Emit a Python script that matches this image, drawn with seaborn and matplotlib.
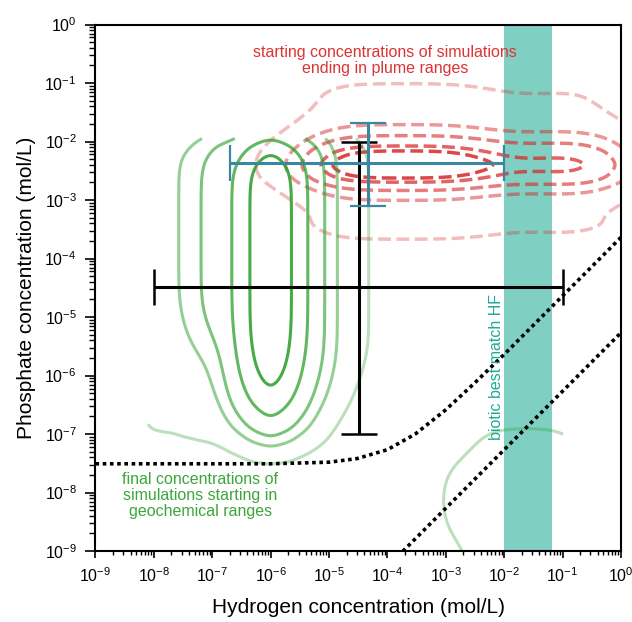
import numpy as np
import pandas as pd
import matplotlib
matplotlib.use("Agg")
import matplotlib.pyplot as plt
import seaborn as sns
from matplotlib.colors import to_rgba
from matplotlib.ticker import LogLocator

sns.set_theme(style="white")
plt.rcParams['font.family'] = ['Liberation Sans', 'DejaVu Sans']
plt.rcParams['mathtext.fontset'] = 'custom'
plt.rcParams['mathtext.rm'] = 'Liberation Sans'
plt.rcParams['mathtext.it'] = 'Liberation Sans:italic'
plt.rcParams['mathtext.bf'] = 'Liberation Sans:bold'

# ---------------- data (log10 concentrations, estimated from the figure) ----------------
# final concentrations (green): relative density map, columns = log10 H, rows = log10 P
green_logH = [-8.1, -7.8, -7.5, -7.2, -6.9, -6.6, -6.3, -6.0, -5.7, -5.4, -5.1, -4.8, -4.5, -4.2]
green_logP = [-2.0, -2.4, -2.8, -3.2, -3.6, -4.0, -4.4, -4.8, -5.2, -5.6, -6.0, -6.4, -6.8, -7.2, -7.6]
green_rows = [
    "7 8 10 13 17 18 20 20 20 18 15 8 5 3",
    "7 8 10 15 22 30 60 100 60 30 15 8 5 3",
    "7 8 10 15 22 30 60 100 60 30 15 8 5 3",
    "7 8 10 15 22 30 60 100 60 30 15 8 5 3",
    "7 8 10 15 22 30 60 100 60 30 15 8 5 3",
    "7 8 10 15 22 30 60 100 60 30 15 8 5 3",
    "7 8 10 15 22 30 60 100 60 30 15 8 5 3",
    "7 8 10 15 22 30 60 100 60 30 15 8 5 3",
    "7 7 9 13 19 30 60 100 60 30 15 8 5 3",
    "7 7 8 9 13 28 55 95 55 28 15 8 5 3",
    "7 7 8 8 11 24 48 75 48 24 13 7 4 2",
    "7 7 7 7 9 18 32 46 32 18 10 5 3 1",
    "5 5 5 6 7 12 20 28 20 12 6 3 2 0",
    "2 2 3 3 3 4 5 5 5 4 3 2 1 0",
    "0 0 1 1 1 1 2 2 2 1 1 0 0 0",
]
# small group of final concentrations at high H / low P
blob_logH = [-2.6, -2.1, -1.6, -1.1, -0.6]
blob_logP = [-7.4, -7.9, -8.4, -8.9, -9.4]
blob_rows = [
    "0 1 1 1 0",
    "1 2 3 2 1",
    "1 3 4 3 1",
    "0 2 3 2 1",
    "0 1 2 1 0",
]
# starting concentrations (red): separable profiles along H and along P
red_logH = [-6.0, -5.5, -5.0, -4.5, -4.0, -3.5, -3.0, -2.5, -2.0, -1.5, -1.0, -0.5, 0.0]
red_H_weight = [0.04, 0.16, 0.8, 1.0, 1.0, 1.0, 1.0, 0.85, 0.62, 0.62, 0.66, 0.64, 0.2]
red_logP = [-1.0, -1.2, -1.4, -1.6, -1.8, -2.0, -2.2, -2.4, -2.6, -2.8, -3.0, -3.2, -3.4, -3.6, -3.8]
red_P_weight = [3, 5, 6, 9, 18, 40, 75, 100, 75, 30, 13, 7, 7, 4, 1]

# error-bar ranges (mol/L)
geo_center = (3.2e-5, 3.2e-5)
geo_H_range = (1e-8, 1e-1)
geo_P_range = (1e-7, 1e-2)
plume_center = (4.7e-5, 4.3e-3)
plume_H_range = (2e-7, 1e-2)
plume_P_range = (8e-4, 2.1e-2)

# biotic best-match H range (mol/L)
hf_band = (1e-2, 6.6e-2)

# dotted boundary lines (H, P)
line1_H = [1e-9, 1e-6, 1e-5, 3e-5, 1e-4, 3e-4, 1e-3, 3e-3, 1e-2, 3e-2, 1e-1, 3e-1, 1.0]
line1_P = [3.1e-8, 3.1e-8, 3.3e-8, 3.8e-8, 5.4e-8, 1.0e-7, 2.6e-7, 7.2e-7, 2.3e-6, 6.9e-6, 2.3e-5, 6.9e-5, 2.3e-4]
line2_H = [1e-4, 1.0]
line2_P = [5.4e-10, 5.4e-6]


def density_table(logH, logP, rows):
    recs = []
    for ly, row in zip(logP, rows):
        for lx, val in zip(logH, row.split()):
            w = float(val)
            if w > 0:
                recs.append((10 ** lx, 10 ** ly, w))
    return pd.DataFrame(recs, columns=["H", "P", "w"])


def separable_table(logH, wH, logP, wP):
    recs = []
    for ly, a in zip(logP, wP):
        for lx, b in zip(logH, wH):
            if a * b > 0:
                recs.append((10 ** lx, 10 ** ly, a * b))
    return pd.DataFrame(recs, columns=["H", "P", "w"])


green_df = density_table(green_logH, green_logP, green_rows)
blob_df = density_table(blob_logH, blob_logP, blob_rows)
red_df = separable_table(red_logH, red_H_weight, red_logP, red_P_weight)

GREEN = "#2ca02c"
RED = "#d62728"
BLUE = "#3a87a0"
TEAL_BAND = "#80cfc3"
TEAL_TEXT = "#1fa999"

fig = plt.figure(figsize=(6.32, 6.22), dpi=100)
ax = fig.add_axes([0.1511, 0.1141, 0.8315, 0.8465])
ax.set_xscale("log")
ax.set_yscale("log")

# band
ax.axvspan(hf_band[0], hf_band[1], color=TEAL_BAND, lw=0, zorder=0.5)

# green contours
g_alphas = [0.32, 0.5, 0.62, 0.75, 0.88]
sns.kdeplot(data=green_df, x="H", y="P", weights="w", log_scale=True,
            bw_method=0.24, levels=[0.02, 0.12, 0.2, 0.38, 0.63],
            clip=((-8.1, -0.95), (-10, -1.95)),
            colors=[to_rgba(GREEN, a) for a in g_alphas],
            linewidths=2.2, ax=ax, zorder=1.2)
sns.kdeplot(data=blob_df, x="H", y="P", weights="w", log_scale=True,
            bw_method=0.6, levels=[0.03],
            clip=((-8.1, -0.99), (-10, -1.95)),
            colors=[to_rgba(GREEN, g_alphas[0])],
            linewidths=2.2, ax=ax, zorder=1.2)

# red contours
r_alphas = [0.3, 0.48, 0.6, 0.72, 0.85]
sns.kdeplot(data=red_df, x="H", y="P", weights="w", log_scale=True,
            bw_method=0.27, levels=[0.03, 0.19, 0.33, 0.59, 0.755],
            colors=[to_rgba(RED, a) for a in r_alphas],
            linewidths=2.5, linestyles="--", ax=ax, zorder=1.1)

# dotted lines
ax.plot(line1_H, line1_P, color="black", ls=(0, (1, 1)), lw=2.6, zorder=2.5)
ax.plot(line2_H, line2_P, color="black", ls=(0, (1, 1)), lw=2.6, zorder=2.5)

# error bars
ax.errorbar([geo_center[0]], [geo_center[1]],
            xerr=[[geo_center[0] - geo_H_range[0]], [geo_H_range[1] - geo_center[0]]],
            yerr=[[geo_center[1] - geo_P_range[0]], [geo_P_range[1] - geo_center[1]]],
            fmt="none", ecolor="black", elinewidth=2.2, capsize=13, capthick=1.8, zorder=3)
ax.errorbar([plume_center[0]], [plume_center[1]],
            xerr=[[plume_center[0] - plume_H_range[0]], [plume_H_range[1] - plume_center[0]]],
            yerr=[[plume_center[1] - plume_P_range[0]], [plume_P_range[1] - plume_center[1]]],
            fmt="none", ecolor=BLUE, elinewidth=2.2, capsize=13, capthick=1.6, zorder=3.1)

# annotations
ax.text(9.06e-5, 0.243, "starting concentrations of simulations\nending in plume ranges",
        color="#dd3333", fontsize=11.5, ha="center", va="center", multialignment="center",
        linespacing=1.05)
ax.text(6.2e-8, 8.9e-9, "final concentrations of\nsimulations starting in\ngeochemical ranges",
        color="#3ca63c", fontsize=11.5, ha="center", va="center", multialignment="center",
        linespacing=1.05)
ax.text(7.5e-3, 1.4e-6, "biotic best match HF", color=TEAL_TEXT, fontsize=11.5,
        rotation=90, ha="center", va="center")

ax.set_xlim(1e-9, 1.0)
ax.set_ylim(1e-9, 1.0)
for axis in (ax.xaxis, ax.yaxis):
    axis.set_major_locator(LogLocator(base=10, numticks=20))
    axis.set_minor_locator(LogLocator(base=10, subs=np.arange(2, 10), numticks=200))

ax.tick_params(which="both", direction="out", color="black", labelsize=11.5,
               labelcolor="black", bottom=True, left=True)
ax.tick_params(axis="x", which="major", length=5, width=1.2, pad=6)
ax.tick_params(axis="x", which="minor", length=3, width=1.0)
ax.tick_params(axis="y", which="major", length=7, width=1.2, pad=6.5)
ax.tick_params(axis="y", which="minor", length=4.5, width=1.0)
for s in ax.spines.values():
    s.set_color("black")
    s.set_linewidth(1.5)

ax.set_xlabel("Hydrogen concentration (mol/L)", fontsize=15, color="black", labelpad=9)
ax.set_ylabel("Phosphate concentration (mol/L)", fontsize=15, color="black", labelpad=6)

fig.savefig("out.png", dpi=100)
